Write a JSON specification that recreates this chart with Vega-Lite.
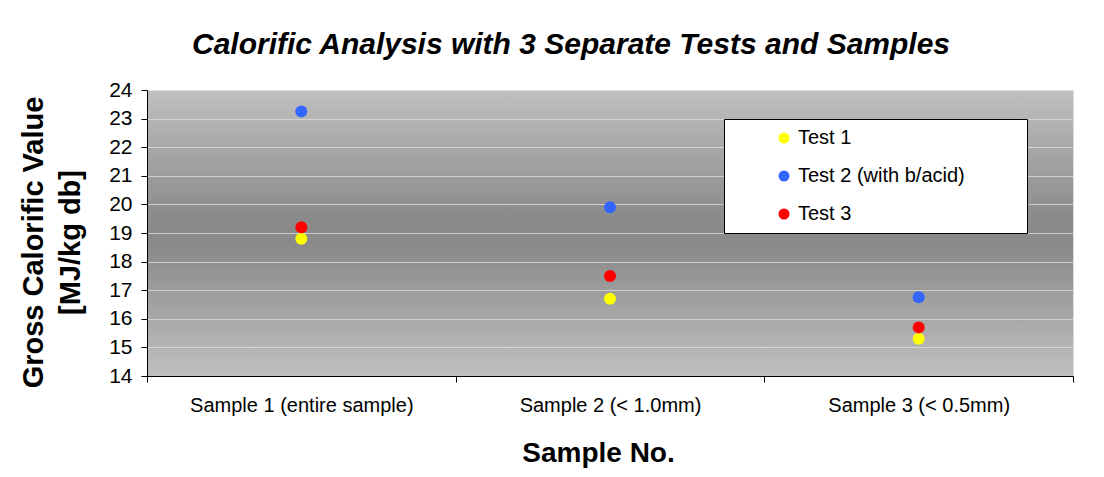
{
  "$schema": "https://vega.github.io/schema/vega-lite/v6.json",
  "width": 926,
  "height": 286,
  "autosize": {"type": "none"},
  "padding": {"left": 147, "top": 90, "right": 31, "bottom": 101},
  "background": "white",
  "title": {
    "text": "Calorific Analysis with 3 Separate Tests and Samples",
    "font": "Liberation Sans",
    "fontSize": 30,
    "fontWeight": "bold",
    "fontStyle": "italic",
    "color": "black",
    "anchor": "middle",
    "frame": "group",
    "dx": -39,
    "baseline": "bottom",
    "offset": -11
  },
  "data": {
    "values": [
      {"sample": "Sample 1 (entire sample)", "test": "Test 1", "value": 18.8},
      {"sample": "Sample 1 (entire sample)", "test": "Test 2 (with b/acid)", "value": 23.25},
      {"sample": "Sample 1 (entire sample)", "test": "Test 3", "value": 19.2},
      {"sample": "Sample 2 (< 1.0mm)", "test": "Test 1", "value": 16.7},
      {"sample": "Sample 2 (< 1.0mm)", "test": "Test 2 (with b/acid)", "value": 19.9},
      {"sample": "Sample 2 (< 1.0mm)", "test": "Test 3", "value": 17.5},
      {"sample": "Sample 3 (< 0.5mm)", "test": "Test 1", "value": 15.3},
      {"sample": "Sample 3 (< 0.5mm)", "test": "Test 2 (with b/acid)", "value": 16.75},
      {"sample": "Sample 3 (< 0.5mm)", "test": "Test 3", "value": 15.7}
    ]
  },
  "mark": {"type": "point", "shape": "circle", "filled": true, "size": 144, "opacity": 1},
  "encoding": {
    "x": {
      "field": "sample",
      "type": "nominal",
      "sort": null,
      "scale": {"paddingInner": 0, "paddingOuter": 0},
      "axis": {
        "title": "Sample No.",
        "labelAngle": 0,
        "tickBand": "extent",
        "grid": false,
        "domainColor": "black",
        "tickColor": "black",
        "tickSize": 6,
        "labelFont": "Liberation Sans",
        "labelFontSize": 20,
        "labelLimit": 400,
        "labelColor": "black",
        "labelPadding": 13,
        "titleFont": "Liberation Sans",
        "titleFontSize": 28,
        "titleFontWeight": "bold",
        "titleColor": "black",
        "titleAlign": "center",
        "titleBaseline": "middle",
        "titleX": 451,
        "titleY": 77
      }
    },
    "y": {
      "field": "value",
      "type": "quantitative",
      "scale": {"domain": [14, 24], "nice": false, "zero": false},
      "axis": {
        "title": ["Gross Calorific Value", "[MJ/kg db]"],
        "values": [14, 15, 16, 17, 18, 19, 20, 21, 22, 23, 24],
        "grid": true,
        "gridColor": "#dcdcdc",
        "gridOpacity": 0.8,
        "domainColor": "black",
        "tickColor": "black",
        "tickSize": 6,
        "labelFont": "Liberation Sans",
        "labelFontSize": 21,
        "labelColor": "black",
        "labelPadding": 9,
        "titleFont": "Liberation Sans",
        "titleFontSize": 29,
        "titleFontWeight": "bold",
        "titleColor": "black",
        "titleLineHeight": 37,
        "titleAngle": -90,
        "titleAlign": "center",
        "titleBaseline": "middle",
        "titleX": -114,
        "titleY": 152
      }
    },
    "color": {
      "field": "test",
      "type": "nominal",
      "scale": {
        "domain": ["Test 1", "Test 2 (with b/acid)", "Test 3"],
        "range": ["#ffff00", "#3366ff", "#ff0000"]
      },
      "legend": {
        "title": "\u00a0",
        "titleOrient": "right",
        "titlePadding": 53,
        "titleFontSize": 4,
        "titleColor": "white",
        "orient": "none",
        "legendX": 577,
        "legendY": 29,
        "padding": 9,
        "fillColor": "white",
        "strokeColor": "black",
        "cornerRadius": 0,
        "symbolType": "circle",
        "symbolSize": 121,
        "symbolOffset": 41,
        "symbolStrokeWidth": 0,
        "labelOffset": 4,
        "labelFont": "Liberation Sans",
        "labelFontSize": 20,
        "labelColor": "black",
        "labelLimit": 400,
        "rowPadding": 18
      }
    }
  },
  "config": {
    "view": {
      "stroke": "#dcdcdc",
      "fill": {
        "gradient": "linear",
        "x1": 0, "y1": 0, "x2": 0, "y2": 1,
        "stops": [
          {"offset": 0, "color": "#c0c0c0"},
          {"offset": 0.45, "color": "#8a8a8a"},
          {"offset": 0.55, "color": "#8a8a8a"},
          {"offset": 1, "color": "#c0c0c0"}
        ]
      }
    }
  }
}
